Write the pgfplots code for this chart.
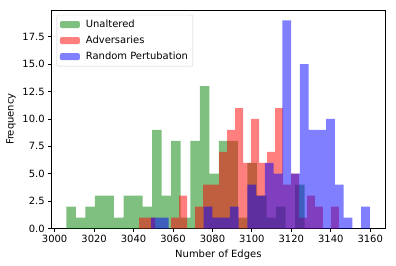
\documentclass[border=0pt]{standalone}
\usepackage{pgfplots}
\pgfplotsset{compat=1.18}
\usepackage{fontspec}
\setmainfont{DejaVu Sans}
\definecolor{mg}{rgb}{0,0.5,0}
\definecolor{mr}{rgb}{1,0,0}
\definecolor{mb}{rgb}{0,0,1}
\begin{document}
\fontsize{10}{12}\selectfont
\begin{tikzpicture}
\path[use as bounding box] (-51.7bp,-37.5bp) rectangle (344.3bp,228.5bp);
\begin{axis}[
  at={(0,0)}, anchor=south west,
  width=333.3bp, height=218.5bp, scale only axis,
  xmin=2998.5, xmax=3167.5, ymin=0, ymax=19.95,
  xtick={3000,3020,...,3160}, ytick={0,2.5,...,17.5},
  tick align=outside, tick pos=left,
  major tick length=3.5bp,
  /pgf/number format/assume math mode=true,
  /pgf/number format/1000 sep={},
  yticklabel style={/pgf/number format/.cd, fixed, fixed zerofill, precision=1},
  ticklabel style={font=\fontsize{10}{12}\selectfont},
  label style={font=\fontsize{10}{12}\selectfont},
  xlabel={Number of Edges}, ylabel={Frequency},
  legend style={at={(0.015,0.978)}, anchor=north west, draw=black!18, rounded corners=2bp,
    font=\fontsize{10}{12}\selectfont, cells={anchor=west}, inner xsep=3bp, inner ysep=3bp,
    row sep=3bp},
  legend image code/.code={\fill[#1] (0bp,-3.5bp) rectangle (20bp,3.5bp); \path (24bp,0bp);},
  axis line style={line width=0.8bp},
  every tick/.style={black, line width=0.8bp},
]
\addplot[ybar interval, fill=mg, fill opacity=0.5, draw=none] coordinates {
(3005.90,2) (3010.74,1) (3015.57,2) (3020.41,3) (3025.24,3) (3030.08,1) (3034.92,3)
(3039.75,3) (3044.59,2) (3049.42,9) (3054.26,3) (3059.10,8) (3063.93,1) (3068.77,8)
(3073.60,13) (3078.44,5) (3083.28,8) (3088.11,8) (3092.95,1) (3097.78,6) (3102.62,3)
(3107.46,1) (3112.29,2) (3117.13,0) (3121.96,4) (3126.80,0)};
\addplot[ybar interval, fill=mr, fill opacity=0.5, draw=none] coordinates {
(3042.89,1) (3046.94,1) (3050.99,0) (3055.04,0) (3059.09,1) (3063.14,3) (3067.19,0)
(3071.24,2) (3075.29,4) (3079.35,4) (3083.40,7) (3087.45,9) (3091.50,11) (3095.55,6)
(3099.60,10) (3103.65,6) (3107.70,7) (3111.75,11) (3115.80,4) (3119.85,5) (3123.90,1)
(3127.95,3) (3132.00,2) (3136.05,0) (3140.10,2) (3144.15,0)};
\addplot[ybar interval, fill=mb, fill opacity=0.5, draw=none] coordinates {
(3048.96,1) (3053.40,1) (3057.83,0) (3062.27,0) (3066.70,0) (3071.14,0) (3075.57,2)
(3080.01,1) (3084.44,1) (3088.88,2) (3093.32,0) (3097.75,4) (3102.19,3) (3106.62,6)
(3111.06,5) (3115.49,19) (3119.93,5) (3124.37,15) (3128.80,9) (3133.24,9) (3137.67,10)
(3142.11,4) (3146.54,1) (3150.98,0) (3155.41,2) (3159.85,0)};
\legend{Unaltered, Adversaries, Random Pertubation}
\end{axis}
\end{tikzpicture}
\end{document}
